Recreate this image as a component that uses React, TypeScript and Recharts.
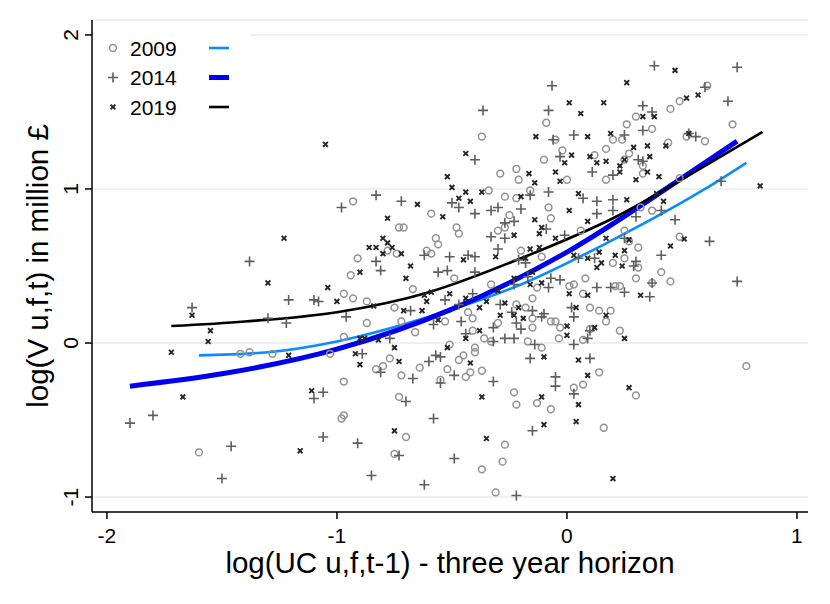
import {
  ComposedChart,
  Scatter,
  Line,
  XAxis,
  YAxis,
  CartesianGrid,
} from "recharts";

// scatter points [x, y]
const pts2009: [number, number][] = [
  [-0.09, 1.43], [-0.37, 1.34], [-0.05, 1.32], [-0.02, 1.25], [-0.1, 1.19], [-0.22, 1.13], [-0.29, 1.1], [-0.21, 1.06], [0.0, 1.06],
  [0.61, 1.67], [0.49, 1.57], [0.45, 1.52], [0.3, 1.47], [0.26, 1.42], [0.37, 1.39], [0.72, 1.42], [0.2, 1.32], [0.24, 1.32], [0.52, 1.34],
  [0.6, 1.31], [0.44, 1.3], [0.17, 1.26], [0.12, 1.22], [0.27, 1.23], [0.25, 1.19], [0.33, 1.15], [0.33, 1.1], [0.17, 1.06], [0.49, 1.07],
  [0.37, 0.86], [0.32, 0.88], [0.06, 0.73], [0.25, 0.73], [0.27, 0.66], [0.31, 0.62], [0.49, 0.69], [0.2, 0.52], [0.25, 0.55], [0.31, 0.49],
  [0.41, 0.46], [0.3, 0.42], [0.45, 0.4], [0.08, 0.42], [0.03, 0.38], [0.21, 0.37], [0.23, 0.37], [0.37, 0.39], [0.07, 0.32], [0.1, 0.23],
  [0.14, 0.21], [0.19, 0.21], [0.17, 0.14], [0.1, 0.09], [0.23, 0.08], [0.07, 0.02],
  [0.14, -0.19], [0.07, -0.27], [0.03, -0.29], [0.3, -0.34], [0.16, -0.55], [0.78, -0.15],
  [-0.77, -0.1], [-0.8, -0.15], [-0.83, -0.17], [-0.72, -0.21], [-0.97, -0.25], [-0.64, -0.16], [-0.52, -0.17], [-0.55, -0.24], [-0.44, -0.22],
  [-0.42, -0.19], [-0.37, -0.18], [-0.47, -0.11], [-0.45, -0.08], [-0.4, -0.06], [-0.73, -0.35], [-0.97, -0.47], [-0.98, -0.49], [-0.23, -0.32],
  [-0.22, -0.4], [-0.13, -0.39], [-0.07, -0.43], [-0.7, -0.61], [-0.75, -0.72], [-0.27, -0.66], [-0.28, -0.77], [-0.37, -0.82], [-0.31, -0.97],
  [-1.42, -0.07], [-1.38, -0.06], [-1.28, -0.07], [-1.03, -0.07], [-1.6, -0.71],
  [-0.93, 0.92], [-0.34, 0.99], [-0.27, 0.95], [-0.22, 0.94], [-0.59, 0.84], [-0.73, 0.75], [-0.71, 0.75], [-0.48, 0.75], [-0.47, 0.71],
  [-0.25, 0.83], [-0.3, 0.73], [-0.27, 0.75], [-0.08, 0.88], [-0.07, 0.81], [-0.16, 0.99], [-0.78, 0.6], [-0.74, 0.58], [-0.57, 0.68],
  [-0.56, 0.64], [-0.91, 0.55], [-0.94, 0.44], [-0.67, 0.35], [-0.61, 0.6], [-0.59, 0.58], [-0.2, 0.6], [-0.11, 0.56], [-0.49, 0.42],
  [-0.33, 0.38], [0.01, 0.37], [-0.97, 0.32], [-0.93, 0.29], [-0.87, 0.27], [-0.75, 0.23], [-0.72, 0.14], [-0.87, 0.13], [-0.53, 0.14],
  [-0.43, 0.2], [-0.41, 0.16], [-0.22, 0.25], [-0.18, 0.23], [-0.15, 0.29], [-0.15, 0.1], [-0.07, 0.14], [-0.05, 0.14], [-0.03, 0.1],
  [-0.035, 0.03], [-0.97, 0.04], [-0.66, 0.07], [-0.51, -0.01], [-0.4, -0.03], [-0.41, 0.08], [-0.36, 0.03], [-0.33, 0.01], [-0.17, 0.01],
  [-0.11, -0.03], [-0.13, 0.36], [-0.3, 0.13], [-0.15, 0.16],
];

const pts2014: [number, number][] = [
  [-0.065, 1.67], [-0.365, 1.51], [-0.08, 1.51], [-0.06, 1.32], [-0.4, 1.19], [-0.03, 1.21],
  [0.38, 1.8], [0.74, 1.79], [0.6, 1.66], [0.7, 1.57], [0.33, 1.54], [0.37, 1.5], [0.33, 1.38], [0.03, 1.35], [0.25, 1.35], [0.53, 1.36],
  [0.56, 1.34], [0.31, 1.19], [0.33, 1.18], [0.11, 1.11], [0.2, 1.09], [0.67, 1.05],
  [0.07, 0.94], [0.13, 0.92], [0.2, 0.93], [0.13, 0.84], [0.2, 0.86], [0.41, 0.86], [0.3, 0.82], [0.25, 0.68], [0.47, 0.8], [0.62, 0.66],
  [0.05, 0.55], [0.12, 0.55], [0.41, 0.57], [0.3, 0.53], [0.29, 0.5], [0.74, 0.4], [0.13, 0.36], [0.19, 0.36], [0.25, 0.33], [0.37, 0.39],
  [0.36, 0.3], [0.03, 0.17], [0.1, 0.08], [0.09, 0.03], [0.03, -0.01], [0.1, -0.1], [0.03, -0.33],
  [-0.89, -0.07], [-0.81, -0.19], [-0.67, -0.23], [-0.6, -0.12], [-0.57, -0.08], [-0.55, -0.09], [-0.55, -0.26], [-0.49, -0.21], [-0.32, -0.25],
  [-0.7, -0.38], [-0.58, -0.49], [-0.05, -0.22], [-0.05, -0.28], [-0.16, -0.1], [-0.91, -0.65], [-0.73, -0.73], [-0.49, -0.75], [-0.15, -0.57],
  [-0.85, -0.86], [-0.62, -0.92], [-0.22, -0.99],
  [-1.8, -0.47], [-1.9, -0.52], [-1.46, -0.67], [-1.5, -0.88], [-1.1, -0.36], [-1.06, -0.32], [-1.06, -0.61],
  [-1.38, 0.53], [-1.63, 0.23], [-1.21, 0.28], [-1.1, 0.28], [-1.08, 0.27], [-1.3, 0.16], [-1.22, 0.13],
  [-0.83, 0.96], [-0.98, 0.88], [-0.72, 0.92], [-0.5, 0.91], [-0.47, 0.88], [-0.4, 0.84], [-0.33, 0.86], [-0.3, 0.88], [-0.2, 0.87],
  [-0.27, 0.78], [-0.23, 0.79], [-0.33, 0.69], [-0.27, 0.68], [-0.09, 0.74], [-0.16, 0.96], [-0.08, 0.98], [-0.01, 0.7], [-0.83, 0.53],
  [-0.81, 0.47], [-0.62, 0.57], [-0.51, 0.56], [-0.43, 0.57], [-0.4, 0.56], [-0.3, 0.61], [-0.21, 0.54], [-0.18, 0.52], [-0.56, 0.46],
  [-0.52, 0.47], [-0.4, 0.46], [-0.23, 0.38], [-0.17, 0.43], [-0.07, 0.42], [-0.03, 0.41], [-0.08, 0.36], [-0.96, 0.17], [-0.53, 0.28],
  [-0.41, 0.32], [-0.47, 0.25], [-0.68, 0.21], [-0.58, 0.12], [-0.46, 0.14], [-0.29, 0.25], [-0.24, 0.2], [-0.15, 0.21], [-0.1, 0.19],
  [-0.2, 0.09], [-0.11, 0.17], [-0.77, 0.03], [-0.44, 0.06], [-0.32, 0.1], [-0.27, 0.03], [-0.23, 0.03], [-0.32, 0.01], [-0.22, 0.13],
  [-0.14, -0.01], [0.02, 0.23],
];

const pts2019: [number, number][] = [
  [-1.05, 1.29], [0.01, 1.56], [-0.135, 1.34], [-0.44, 1.23], [-0.01, 1.17], [0.02, 1.22], [-0.165, 1.1], [-0.05, 1.11], [-0.52, 1.08],
  [-0.03, 1.05], [-0.14, 1.04],
  [0.47, 1.77], [0.26, 1.69], [0.57, 1.61], [0.52, 1.59], [0.16, 1.56], [0.06, 1.49], [0.33, 1.47], [0.38, 1.47], [0.09, 1.34], [0.19, 1.36],
  [0.53, 1.36], [0.29, 1.27], [0.35, 1.28], [0.43, 1.28], [0.1, 1.21], [0.13, 1.17], [0.17, 1.18], [0.25, 1.19], [0.36, 1.21], [0.23, 1.15],
  [0.23, 1.11], [0.35, 1.11], [0.3, 1.06], [0.4, 1.08], [0.84, 1.02],
  [0.05, 0.97], [0.26, 0.93], [0.39, 0.97], [0.42, 0.92], [0.09, 0.79], [0.17, 0.68], [0.27, 0.67], [0.51, 0.675], [0.45, 0.63], [0.03, 0.57],
  [0.09, 0.55], [0.14, 0.59], [0.21, 0.57], [0.25, 0.6], [0.15, 0.52], [0.13, 0.49], [0.24, 0.5], [0.32, 0.31], [0.09, 0.31], [0.04, 0.23],
  [0.17, 0.18], [0.12, 0.1], [0.25, 0.03], [0.01, 0.32], [0.0, 0.11], [0.0, 0.05],
  [0.05, -0.11], [0.09, -0.21], [0.05, -0.4], [0.27, -0.29], [0.04, -0.51], [0.2, -0.88],
  [-0.92, -0.07], [-0.9, -0.14], [-0.73, -0.12], [-0.42, -0.13], [-0.37, -0.35], [-0.11, -0.35], [-0.1, -0.09], [-0.75, -0.57], [-0.35, -0.62],
  [-0.1, -0.53],
  [-1.72, -0.06], [-1.21, -0.08], [-1.67, -0.35], [-1.11, -0.31], [-1.16, -0.7],
  [-1.23, 0.68], [-1.3, 0.39], [-1.04, 0.36], [-1.63, 0.18], [-1.55, 0.08], [-1.56, 0.01],
  [-0.65, 0.9], [-0.5, 1.01], [-0.44, 0.98], [-0.47, 0.94], [-0.42, 0.92], [-0.37, 0.98], [-0.2, 0.95], [-0.54, 0.82], [-0.78, 0.81],
  [-0.23, 0.7], [-0.14, 0.8], [-0.11, 0.75], [-0.12, 0.71], [-0.05, 0.68], [0.01, 0.86], [-0.8, 0.68], [-0.86, 0.62], [-0.83, 0.62],
  [-0.76, 0.62], [-0.78, 0.65], [-0.8, 0.58], [-0.72, 0.58], [-0.9, 0.46], [-0.68, 0.5], [-0.7, 0.42], [-0.45, 0.54], [-0.31, 0.56],
  [-0.16, 0.61], [-0.12, 0.62], [-0.18, 0.55], [-0.23, 0.42], [-0.15, 0.46], [-0.11, 0.39], [-1.0, 0.27], [-0.84, 0.24], [-0.62, 0.31],
  [-0.59, 0.33], [-0.61, 0.27], [-0.51, 0.32], [-0.44, 0.29], [-0.71, 0.21], [-0.63, 0.21], [-0.56, 0.15], [-0.35, 0.27], [-0.38, 0.23],
  [-0.27, 0.26], [-0.29, 0.18], [-0.23, 0.18], [-0.19, 0.16], [-0.9, 0.03], [-0.88, 0.03], [-0.82, 0.02], [-0.75, -0.03], [-0.52, -0.03],
  [-0.44, 0.03], [-0.38, 0.08], [-0.16, 0.38], [-0.21, 0.23], [-0.3, 0.34],
];

// fitted curves
const fit2009: [number, number][] = [
  [-1.6, -0.08], [-1.3, -0.06], [-1.0, 0.01], [-0.6, 0.17], [-0.2, 0.38], [0.2, 0.67], [0.6, 1.0], [0.78, 1.17],
];
const fit2014: [number, number][] = [
  [-1.9, -0.28], [-1.5, -0.2], [-1.0, -0.04], [-0.5, 0.22], [0.0, 0.59], [0.5, 1.07], [0.74, 1.31],
];
const fit2019: [number, number][] = [
  [-1.72, 0.11], [-1.4, 0.14], [-1.0, 0.2], [-0.6, 0.33], [-0.2, 0.55], [0.2, 0.81], [0.6, 1.15], [0.85, 1.37],
];

const xTicks = [-2, -1, 0, 1];
const yTicks = [-1, 0, 1, 2];
const years = ["2009", "2014", "2019"];

const FONT = "'Liberation Sans', Arial, Helvetica, sans-serif";
const toXY = (arr: [number, number][]) => arr.map(([x, y]) => ({ x, y }));

const Circle = (p: any) => (
  <circle cx={p.cx} cy={p.cy} r={3.4} fill="none" stroke="#929292" strokeWidth={1.5} />
);
const Plus = (p: any) => (
  <path
    d={`M${p.cx - 5},${p.cy}H${p.cx + 5}M${p.cx},${p.cy - 5}V${p.cy + 5}`}
    stroke="#5e5e5e"
    strokeWidth={1.6}
  />
);
const Cross = (p: any) => (
  <path
    d={`M${p.cx - 2.4},${p.cy - 2.4}L${p.cx + 2.4},${p.cy + 2.4}M${p.cx - 2.4},${p.cy + 2.4}L${p.cx + 2.4},${p.cy - 2.4}`}
    stroke="#262626"
    strokeWidth={1.9}
  />
);

const YTick = (p: any) => (
  <text
    x={p.x - 5}
    y={p.y}
    transform={`rotate(-90 ${p.x - 5} ${p.y})`}
    textAnchor="middle"
    fontSize={21}
    fontFamily={FONT}
    fill="#000"
  >
    {p.payload.value}
  </text>
);
const XTick = (p: any) => (
  <text x={p.x} y={p.y + 22} textAnchor="middle" fontSize={21} fontFamily={FONT} fill="#000">
    {p.payload.value}
  </text>
);

const fitColors = ["#0a8cff", "#0000f0", "#000000"];
const fitWidths = [2.6, 5, 2.6];

export default function App() {
  return (
    <div style={{ position: "absolute", left: 0, top: 0, width: 830, height: 604, background: "#fff" }}>
      <ComposedChart width={830} height={604} margin={{ top: 20, right: 22, bottom: 0, left: 0 }}>
        <CartesianGrid horizontal vertical={false} stroke="#e6eef1" strokeWidth={1.5} />
        <XAxis
          type="number"
          dataKey="x"
          domain={[-2.065, 1.048]}
          ticks={xTicks}
          allowDataOverflow
          height={92}
          tickSize={7}
          axisLine={{ stroke: "#000", strokeWidth: 1.5 }}
          tickLine={{ stroke: "#000", strokeWidth: 1.5 }}
          tick={<XTick />}
          label={{
            content: () => (
              <text x={450} y={573} textAnchor="middle" fontSize={29.5} fontFamily={FONT} fill="#000">
                log(UC u,f,t-1) - three year horizon
              </text>
            ),
          }}
        />
        <YAxis
          type="number"
          dataKey="y"
          domain={[-1.097, 2.097]}
          ticks={yTicks}
          allowDataOverflow
          width={92}
          tickSize={7}
          axisLine={{ stroke: "#000", strokeWidth: 1.5 }}
          tickLine={{ stroke: "#000", strokeWidth: 1.5 }}
          tick={<YTick />}
          label={{
            content: () => (
              <text
                x={48}
                y={266}
                transform="rotate(-90 48 266)"
                textAnchor="middle"
                fontSize={29.5}
                fontFamily={FONT}
                fill="#000"
              >
                log(V u,f,t) in million £
              </text>
            ),
          }}
        />
        <Scatter name="2009" data={toXY(pts2009)} shape={Circle} isAnimationActive={false} />
        <Scatter name="2014" data={toXY(pts2014)} shape={Plus} isAnimationActive={false} />
        <Scatter name="2019" data={toXY(pts2019)} shape={Cross} isAnimationActive={false} />
        <Line data={toXY(fit2009)} dataKey="y" type="monotone" stroke={fitColors[0]} strokeWidth={fitWidths[0]} dot={false} isAnimationActive={false} />
        <Line data={toXY(fit2014)} dataKey="y" type="monotone" stroke={fitColors[1]} strokeWidth={fitWidths[1]} dot={false} isAnimationActive={false} />
        <Line data={toXY(fit2019)} dataKey="y" type="monotone" stroke={fitColors[2]} strokeWidth={fitWidths[2]} dot={false} isAnimationActive={false} />
      </ComposedChart>
      <svg width={830} height={604} style={{ position: "absolute", left: 0, top: 0, pointerEvents: "none" }}>
        <rect x={94} y={24} width={156} height={96} fill="#fff" />
        {years.map((yr, i) => {
          const cy = 48 + i * 29.5;
          return (
            <g key={yr}>
              {i === 0 && <Circle cx={113} cy={cy} />}
              {i === 1 && <Plus cx={113} cy={cy} />}
              {i === 2 && <Cross cx={113} cy={cy} />}
              <text x={130} y={cy + 7.5} fontSize={21} fontFamily={FONT} fill="#000">
                {yr}
              </text>
              <line x1={209} x2={229} y1={cy} y2={cy} stroke={fitColors[i]} strokeWidth={fitWidths[i]} />
            </g>
          );
        })}
      </svg>
    </div>
  );
}
